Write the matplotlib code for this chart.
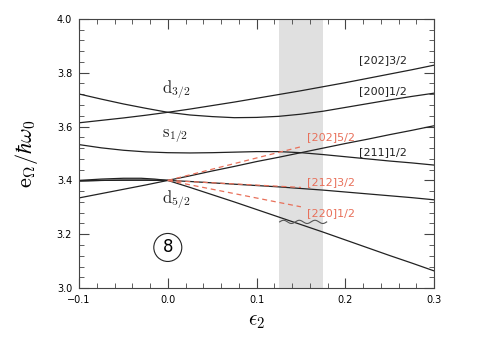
import matplotlib
matplotlib.use("Agg")
import matplotlib.pyplot as plt
import numpy as np

plt.rcParams['mathtext.fontset'] = 'cm'

eps = [-0.1, -0.075, -0.05, -0.025, 0.0, 0.025, 0.05, 0.075, 0.1,
       0.125, 0.15, 0.175, 0.2, 0.225, 0.25, 0.275, 0.3]

# solid Nilsson levels
lev_202_32 = [3.614, 3.623, 3.632, 3.642, 3.653, 3.665, 3.678, 3.691, 3.705,
              3.719, 3.733, 3.748, 3.763, 3.779, 3.795, 3.811, 3.828]
lev_200_12 = [3.721, 3.702, 3.684, 3.668, 3.653, 3.643, 3.637, 3.633, 3.634,
              3.638, 3.646, 3.657, 3.671, 3.685, 3.699, 3.712, 3.724]
lev_211_12 = [3.533, 3.521, 3.512, 3.506, 3.503, 3.502, 3.503, 3.505, 3.507,
              3.507, 3.503, 3.496, 3.488, 3.480, 3.472, 3.465, 3.457]
lev_d52_up = [3.335, 3.351, 3.367, 3.383, 3.400, 3.417, 3.435, 3.452, 3.470,
              3.486, 3.503, 3.520, 3.537, 3.553, 3.570, 3.586, 3.603]
lev_212_32 = [3.398, 3.400, 3.401, 3.401, 3.400, 3.396, 3.391, 3.386, 3.381,
              3.376, 3.370, 3.364, 3.357, 3.350, 3.343, 3.336, 3.328]
lev_220_12 = [3.398, 3.400, 3.401, 3.401, 3.400, 3.374, 3.347, 3.320, 3.292,
              3.264, 3.236, 3.208, 3.179, 3.150, 3.121, 3.093, 3.064]
# small hump on the left of the d5/2 group
hump_x = [-0.1, -0.075, -0.05, -0.03, -0.015, 0.0]
hump_y = [3.400, 3.405, 3.408, 3.408, 3.405, 3.400]

# red dashed tangents from the spherical point
tan_x = [0.0, 0.15]
tan_202_52 = [3.400, 3.525]
tan_212_32 = [3.400, 3.374]
tan_220_12 = [3.400, 3.302]

band = (0.125, 0.175)

black_labels = ["[202]3/2", "[200]1/2", "[211]1/2"]
black_lab_y = [3.848, 3.730, 3.507]
red_labels = ["[202]5/2", "[212]3/2", "[220]1/2"]
red_lab_y = [3.560, 3.395, 3.280]
shell_labels = [r"$\mathrm{d}_{3/2}$", r"$\mathrm{s}_{1/2}$", r"$\mathrm{d}_{5/2}$"]
shell_lab_y = [3.738, 3.565, 3.327]

red = "#e8705a"

fig = plt.figure(figsize=(4.91, 3.43), dpi=100)
ax = fig.add_axes([0.161, 0.160, 0.723, 0.785])

ax.axvspan(band[0], band[1], color="#e0e0e0", lw=0, zorder=0)

for lev in [lev_202_32, lev_200_12, lev_211_12, lev_d52_up, lev_212_32, lev_220_12]:
    ax.plot(eps, lev, color="#222222", lw=0.9)
ax.plot(hump_x, hump_y, color="#222222", lw=0.9)

for t in [tan_202_52, tan_212_32, tan_220_12]:
    ax.plot(tan_x, t, color=red, lw=0.9, ls=(0, (4, 3)))

for s, y in zip(black_labels, black_lab_y):
    ax.text(0.215, y, s, fontsize=8, color="#222222", va="center", ha="left")
for s, y in zip(red_labels, red_lab_y):
    ax.text(0.157, y, s, fontsize=8, color=red, va="center", ha="left")
for s, y in zip(shell_labels, shell_lab_y):
    ax.text(-0.007, y, s, fontsize=12, color="#222222", va="center", ha="left")

# wiggle marking the interaction
wx = np.linspace(0.126, 0.179, 200)
ax.plot(wx, 3.246 + 0.006 * np.sin((wx - 0.126) / 0.0177 * 2 * np.pi),
        color="#555555", lw=0.8)

ax.text(0.0, 3.151, "8", fontsize=12, ha="center", va="center",
        bbox=dict(boxstyle="circle,pad=0.3", fc="none", ec="#222222", lw=0.8))

ax.set_xlim(-0.1, 0.3)
ax.set_ylim(3.0, 4.0)
ax.set_xticks([-0.1, 0.0, 0.1, 0.2, 0.3])
ax.set_xticklabels(["\u22120.1", "0.0", "0.1", "0.2", "0.3"])
ax.set_yticks([3.0, 3.2, 3.4, 3.6, 3.8, 4.0])
ax.set_xticks(np.arange(-0.1, 0.301, 0.02), minor=True)
ax.set_yticks(np.arange(3.0, 4.001, 0.04), minor=True)
ax.tick_params(which="both", direction="in", top=True, right=True,
               labelsize=7, color="#444444")
ax.tick_params(which="major", length=7, pad=5)
ax.tick_params(which="minor", length=3.5)
for sp in ax.spines.values():
    sp.set_color("#444444")

ax.set_xlabel(r"$\epsilon_2$", fontsize=15, labelpad=4)
ax.set_ylabel(r"$\mathrm{e}_\Omega/\hbar\omega_0$", fontsize=16, labelpad=12)

fig.savefig("out.png", dpi=100)
